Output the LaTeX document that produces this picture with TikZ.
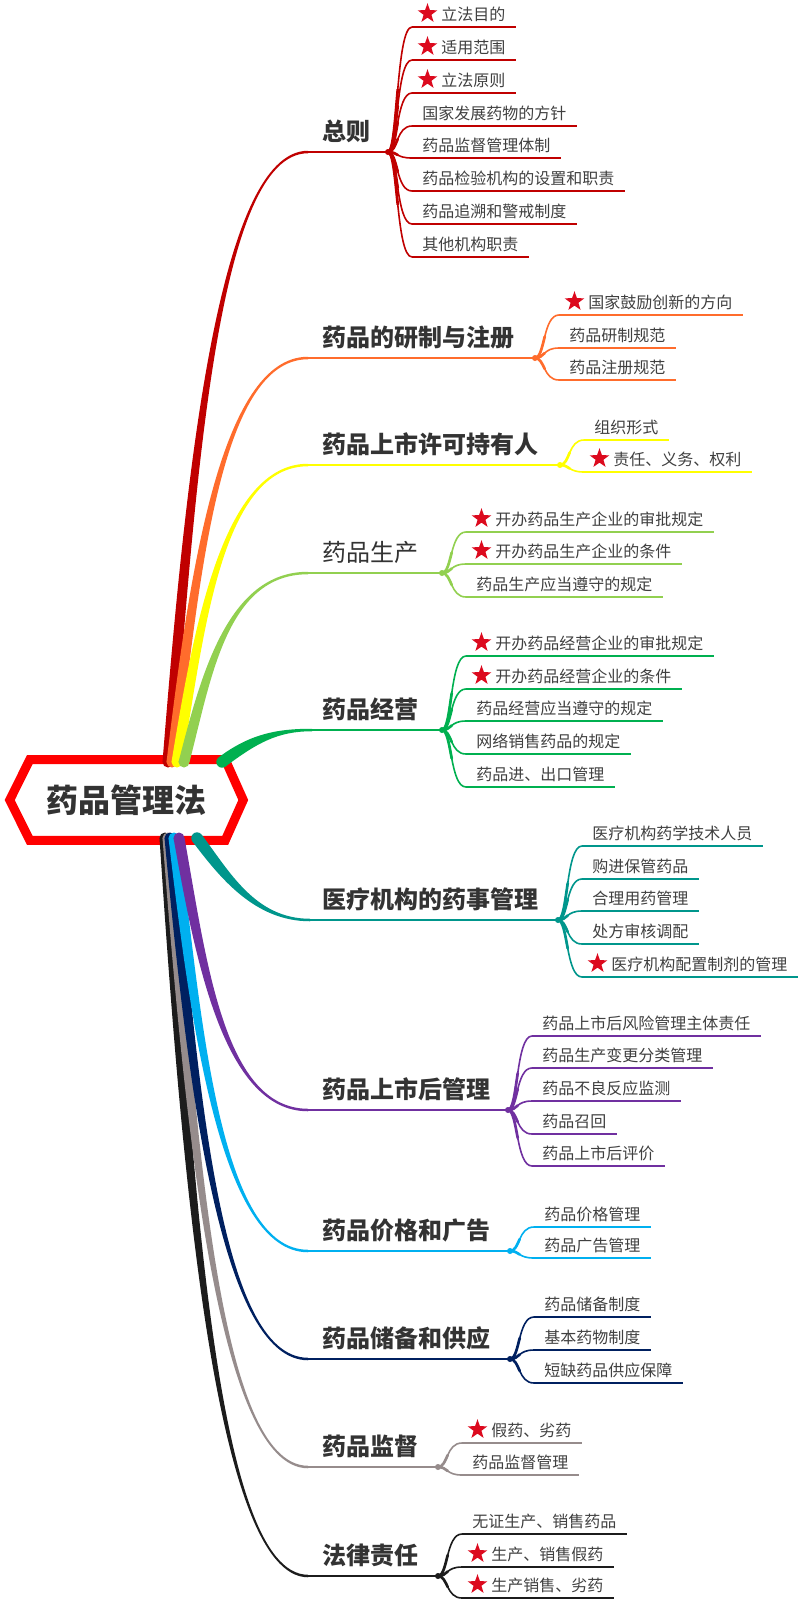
\documentclass[tikz,border=0pt]{standalone}
\usepackage{fontspec}
\setmainfont{Noto Sans CJK SC}
\usetikzlibrary{shapes.geometric,calc}
\definecolor{cA}{HTML}{C00000}
\definecolor{cB}{HTML}{FF6C2C}
\definecolor{cC}{HTML}{FFFF00}
\definecolor{cD}{HTML}{92D050}
\definecolor{cE}{HTML}{00B050}
\definecolor{cF}{HTML}{00968C}
\definecolor{cG}{HTML}{7030A0}
\definecolor{cH}{HTML}{00B0F0}
\definecolor{cI}{HTML}{002060}
\definecolor{cJ}{HTML}{968C8C}
\definecolor{cK}{HTML}{1C1C1C}
\definecolor{starred}{HTML}{DC0A1E}
\definecolor{leafgray}{HTML}{404040}
\definecolor{topicgray}{HTML}{333333}

% tapered main branch: color, root x, root y, end y
\newcommand\mbranch[4]{%
  \pgfmathsetmacro\mbS{(#4>#3) ? 1 : -1}%
  \pgfmathsetmacro\mbY{#3+0.45*(#4-#3)}%
  \pgfmathsetmacro\mbX{#2+0.35*(307-#2)}%
  \pgfmathsetmacro\mbA{#4+\mbS*1.25}%
  \pgfmathsetmacro\mbB{#4-\mbS*1.25}%
  \fill[#1] (#2-5.5,#3) .. controls (#2+16.5,\mbY) and (\mbX,\mbA) .. (308,\mbA)
     -- (308,\mbB) .. controls (\mbX,\mbB) and (#2+27.5,\mbY) .. (#2+5.5,#3) -- cycle;
  \fill[#1] (#2,#3) circle (5.5);
}
% topic: color, line y, junction x, text, name, style
\newcommand\topicitem[6]{%
  \node[#6] (#5) at (322,#2-21) {#4};
  \coordinate (#5e) at (307,#2);
  \coordinate (#5j) at (#3,#2);
  \draw[topicline,draw=#1] (#5e) -- (#5j);
  \fill[#1] (#5j) circle (3);
}
% leaf: color, junction name, junction x, line y, star, text, name
\newcommand\leafitem[7]{%
  \coordinate (#7s) at (#3+24,#4);
  \ifnum#5=1
    \node[redstar] (#7star) at (#3+39.5,#4-13.5) {};
    \node[leaf] (#7) at (#3+53,#4-13) {#6};
  \else
    \node[leaf] (#7) at (#3+34,#4-13) {#6};
  \fi
  \draw[leafcurve,draw=#1] (#2) .. controls +(10,0) and +(-16,0) .. (#7s);
  \draw[leafthick,draw=#1] (#2) .. controls ($(#2)+(5,0)$) and ($(#2)!0.25!(#2 |- #7s)+(7,0)$)
     .. ($(#2)!0.5!(#2 |- #7s)+(9.75,0)$);
  \draw[leafline,draw=#1] (#7s) -- ($(#7s -| #7.east)+(10,0)$);
}

\begin{document}
\begin{tikzpicture}[x=0.75pt,y=-0.75pt,
  leaf/.style={anchor=west, inner sep=0pt, font=\fontsize{12pt}{14pt}\selectfont, text=leafgray},
  topic/.style={anchor=west, inner sep=0pt, font=\fontsize{18pt}{22pt}\selectfont\bfseries, text=topicgray},
  topicreg/.style={anchor=west, inner sep=0pt, font=\fontsize{18pt}{22pt}\selectfont, text=topicgray},
  rootnode/.style={inner sep=0pt, minimum width=174.75pt, minimum height=60pt, font=\fontsize{24pt}{28pt}\selectfont\bfseries, text=topicgray},
  hexline/.style={draw=red, line width=6.75pt, line join=miter},
  redstar/.style={star, star points=5, star point ratio=2.5, fill=starred, inner sep=0pt, minimum size=15.5pt},
  leafcurve/.style={line width=1.2pt},
  leafthick/.style={line width=2pt, line cap=round},
  leafline/.style={line width=0.9pt},
  topicline/.style={line width=1.9pt}]
\fill[white] (0,0) rectangle (798,1600);
\useasboundingbox (0,0) rectangle (798,1600);

% central node
\node[rootnode] (root) at (126.5,800) {药品管理法};
\draw[hexline] (root.west) -- ($(root.north west)+(20,0)$) -- ($(root.north east)+(-18,0)$)
  -- (root.east) -- ($(root.south east)+(-18,0)$) -- ($(root.south west)+(20,0)$) -- cycle;

% upper main branches
\mbranch{cA}{168}{762}{152}
\mbranch{cB}{172}{762}{358}
\mbranch{cC}{177}{762}{465}
\mbranch{cD}{184}{762}{573}
\fill[cE] (218.6,757.4) .. controls (250.6,733.4) and (278,728.75) .. (312,728.75)
  -- (312,731.25) .. controls (278,731.25) and (257.4,742.6) .. (225.4,766.6) -- cycle;
\fill[cE] (222,762) circle (5.7);
% lower main branches
\mbranch{cK}{165}{838}{1576}
\mbranch{cJ}{168}{838}{1467}
\mbranch{cI}{170}{838}{1359}
\mbranch{cH}{174}{838}{1251}
\mbranch{cG}{179}{838}{1110}
\fill[cF] (201.6,834.6) .. controls (229.6,871.6) and (255,918.75) .. (310,918.75)
  -- (310,921.25) .. controls (255,921.25) and (220.4,878.4) .. (192.4,841.4) -- cycle;
\fill[cF] (197,838) circle (5.7);

% 1 总则
\topicitem{cA}{152}{388}{总则}{t1}{topic}
\leafitem{cA}{t1j}{388}{27}{1}{立法目的}{t1a}
\leafitem{cA}{t1j}{388}{60}{1}{适用范围}{t1b}
\leafitem{cA}{t1j}{388}{93}{1}{立法原则}{t1c}
\leafitem{cA}{t1j}{388}{126}{0}{国家发展药物的方针}{t1d}
\leafitem{cA}{t1j}{388}{158}{0}{药品监督管理体制}{t1e}
\leafitem{cA}{t1j}{388}{191}{0}{药品检验机构的设置和职责}{t1f}
\leafitem{cA}{t1j}{388}{224}{0}{药品追溯和警戒制度}{t1g}
\leafitem{cA}{t1j}{388}{257}{0}{其他机构职责}{t1h}

% 2
\topicitem{cB}{358}{535}{药品的研制与注册}{t2}{topic}
\leafitem{cB}{t2j}{535}{315}{1}{国家鼓励创新的方向}{t2a}
\leafitem{cB}{t2j}{535}{348}{0}{药品研制规范}{t2b}
\leafitem{cB}{t2j}{535}{380}{0}{药品注册规范}{t2c}

% 3
\topicitem{cC}{465}{560}{药品上市许可持有人}{t3}{topic}
\leafitem{cC}{t3j}{560}{440}{0}{组织形式}{t3a}
\leafitem{cC}{t3j}{560}{472}{1}{责任、义务、权利}{t3b}

% 4
\topicitem{cD}{573}{442}{药品生产}{t4}{topicreg}
\leafitem{cD}{t4j}{442}{532}{1}{开办药品生产企业的审批规定}{t4a}
\leafitem{cD}{t4j}{442}{564}{1}{开办药品生产企业的条件}{t4b}
\leafitem{cD}{t4j}{442}{597}{0}{药品生产应当遵守的规定}{t4c}

% 5
\topicitem{cE}{730}{442}{药品经营}{t5}{topic}
\leafitem{cE}{t5j}{442}{656}{1}{开办药品经营企业的审批规定}{t5a}
\leafitem{cE}{t5j}{442}{689}{1}{开办药品经营企业的条件}{t5b}
\leafitem{cE}{t5j}{442}{721}{0}{药品经营应当遵守的规定}{t5c}
\leafitem{cE}{t5j}{442}{754}{0}{网络销售药品的规定}{t5d}
\leafitem{cE}{t5j}{442}{787}{0}{药品进、出口管理}{t5e}

% 6
\topicitem{cF}{920}{558}{医疗机构的药事管理}{t6}{topic}
\leafitem{cF}{t6j}{558}{846}{0}{医疗机构药学技术人员}{t6a}
\leafitem{cF}{t6j}{558}{879}{0}{购进保管药品}{t6b}
\leafitem{cF}{t6j}{558}{911}{0}{合理用药管理}{t6c}
\leafitem{cF}{t6j}{558}{944}{0}{处方审核调配}{t6d}
\leafitem{cF}{t6j}{558}{977}{1}{医疗机构配置制剂的管理}{t6e}

% 7
\topicitem{cG}{1110}{508}{药品上市后管理}{t7}{topic}
\leafitem{cG}{t7j}{508}{1036}{0}{药品上市后风险管理主体责任}{t7a}
\leafitem{cG}{t7j}{508}{1068}{0}{药品生产变更分类管理}{t7b}
\leafitem{cG}{t7j}{508}{1101}{0}{药品不良反应监测}{t7c}
\leafitem{cG}{t7j}{508}{1134}{0}{药品召回}{t7d}
\leafitem{cG}{t7j}{508}{1166}{0}{药品上市后评价}{t7e}

% 8
\topicitem{cH}{1251}{510}{药品价格和广告}{t8}{topic}
\leafitem{cH}{t8j}{510}{1227}{0}{药品价格管理}{t8a}
\leafitem{cH}{t8j}{510}{1258}{0}{药品广告管理}{t8b}

% 9
\topicitem{cI}{1359}{510}{药品储备和供应}{t9}{topic}
\leafitem{cI}{t9j}{510}{1317}{0}{药品储备制度}{t9a}
\leafitem{cI}{t9j}{510}{1350}{0}{基本药物制度}{t9b}
\leafitem{cI}{t9j}{510}{1383}{0}{短缺药品供应保障}{t9c}

% 10
\topicitem{cJ}{1467}{438}{药品监督}{t10}{topic}
\leafitem{cJ}{t10j}{438}{1443}{1}{假药、劣药}{t10a}
\leafitem{cJ}{t10j}{438}{1475}{0}{药品监督管理}{t10b}

% 11
\topicitem{cK}{1576}{438}{法律责任}{t11}{topic}
\leafitem{cK}{t11j}{438}{1534}{0}{无证生产、销售药品}{t11a}
\leafitem{cK}{t11j}{438}{1567}{1}{生产、销售假药}{t11b}
\leafitem{cK}{t11j}{438}{1598}{1}{生产销售、劣药}{t11c}
\end{tikzpicture}
\end{document}
